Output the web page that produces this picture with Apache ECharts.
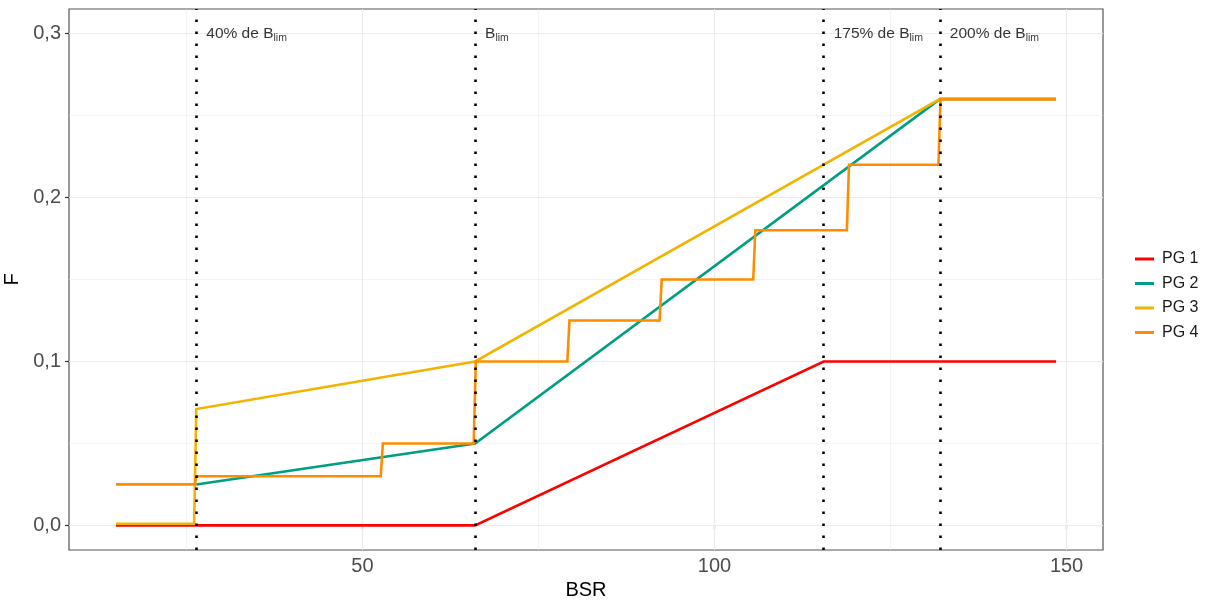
<!DOCTYPE html>
<html>
<head>
<meta charset="utf-8">
<script src="https://cdn.jsdelivr.net/npm/echarts@6/dist/echarts.min.js"></script>
<style>
html,body{margin:0;padding:0;background:#fff;}
#chart{width:1208px;height:601px;}
</style>
</head>
<body>
<div id="chart"></div>
<script>
// ---- data ----
var seriesNames = ['PG 1', 'PG 2', 'PG 3', 'PG 4'];
var pg1X = [15, 66, 115.5, 148.5];
var pg1Y = [0, 0, 0.1, 0.1];
var pg2X = [26.4, 66, 132, 148.5];
var pg2Y = [0.025, 0.05, 0.26, 0.26];
var pg3X = [15, 26.1, 26.4, 66, 132, 148.5];
var pg3Y = [0.001, 0.001, 0.071, 0.1, 0.26, 0.26];
var pg4X = [15, 26.2, 26.4, 52.6, 52.9, 65.8, 66.1, 79.1, 79.4, 92.2, 92.5, 105.5, 105.8, 118.8, 119.1, 131.8, 132.1, 148.5];
var pg4Y = [0.025, 0.025, 0.03, 0.03, 0.05, 0.05, 0.1, 0.1, 0.125, 0.125, 0.15, 0.15, 0.18, 0.18, 0.22, 0.22, 0.26, 0.26];
var refX = [26.4, 66, 115.5, 132];
var refLabelPrefix = ['40% de B', 'B', '175% de B', '200% de B'];
var refLabelSub = ['lim', 'lim', 'lim', 'lim'];
var refLabelY = 0.3;
var xTicks = [50, 100, 150];
var xMinor = [25, 75, 125];
var yTicks = [0, 0.1, 0.2, 0.3];
var yMinor = [0.05, 0.15, 0.25];
var colors = ['#FF0000', '#009E82', '#F2B400', '#FF8C00'];

function zip(xs, ys) { return xs.map(function (x, i) { return [x, ys[i]]; }); }
var allX = [pg1X, pg2X, pg3X, pg4X];
var allY = [pg1Y, pg2Y, pg3Y, pg4Y];

var chart = echarts.init(document.getElementById('chart'));

var gridMarks = [];
xMinor.forEach(function (v) { gridMarks.push({ xAxis: v, lineStyle: { width: 0.6 } }); });
yMinor.forEach(function (v) { gridMarks.push({ yAxis: v, lineStyle: { width: 0.6 } }); });
xTicks.forEach(function (v) { gridMarks.push({ xAxis: v, lineStyle: { width: 1.2 } }); });
yTicks.forEach(function (v) { gridMarks.push({ yAxis: v, lineStyle: { width: 1.2 } }); });

var series = [{
  type: 'line', data: [], z: 1, silent: true,
  markLine: {
    silent: true, symbol: 'none', animation: false, z: 1,
    label: { show: false },
    lineStyle: { color: '#EBEBEB', type: 'solid' },
    data: gridMarks
  }
}];

seriesNames.forEach(function (n, i) {
  series.push({
    name: n, type: 'line', data: zip(allX[i], allY[i]),
    showSymbol: false, symbol: 'none', z: 2 + i * 0.1,
    lineStyle: { color: colors[i], width: 2.6, join: 'miter' },
    itemStyle: { color: colors[i] },
    animation: false
  });
});

series.push({
  type: 'line', data: [], z: 5, silent: true,
  markLine: {
    silent: true, symbol: 'none', animation: false, z: 5,
    label: { show: false },
    lineStyle: { color: '#000', width: 2.6, type: [2.6, 9.4], cap: 'butt' },
    data: refX.map(function (v) { return { xAxis: v }; })
  }
});

series.push({
  type: 'scatter', symbolSize: 0, z: 6, silent: true, animation: false,
  data: refX.map(function (v, i) { return { value: [v, refLabelY], idx: i }; }),
  label: {
    show: true, position: 'right', distance: 10,
    formatter: function (p) {
      return '{m|' + refLabelPrefix[p.dataIndex] + '}{s|' + refLabelSub[p.dataIndex] + '}';
    },
    rich: {
      m: { fontSize: 15.5, color: '#000', fontFamily: 'Liberation Sans, Arial, sans-serif', lineHeight: 20, verticalAlign: 'middle' },
      s: { fontSize: 10.5, color: '#000', fontFamily: 'Liberation Sans, Arial, sans-serif', lineHeight: 20, verticalAlign: 'bottom' }
    }
  }
});

chart.setOption({
  backgroundColor: '#fff',
  animation: false,
  grid: { left: 69, right: 105, top: 9, bottom: 51, show: true, borderColor: '#555', borderWidth: 1.2, backgroundColor: 'transparent', containLabel: false, outerBoundsMode: 'none' },
  legend: {
    orient: 'vertical', left: 1130, top: 244,
    data: seriesNames,
    icon: 'rect', itemWidth: 19, itemHeight: 3, itemGap: 4.5,
    textStyle: { fontSize: 16, color: '#1a1a1a', fontFamily: 'Liberation Sans, Arial, sans-serif', lineHeight: 20, padding: [0, 0, 0, 3] }
  },
  xAxis: {
    type: 'value', min: 8.325, max: 155.175,
    name: 'BSR', nameLocation: 'middle', nameGap: 28,
    nameTextStyle: { fontSize: 20, color: '#000', fontFamily: 'Liberation Sans, Arial, sans-serif' },
    axisLine: { show: false },
    axisTick: { show: true, length: 4, lineStyle: { color: '#333', width: 1.2 }, customValues: xTicks },
    axisLabel: { fontSize: 20, color: '#4D4D4D', margin: 6, fontFamily: 'Liberation Sans, Arial, sans-serif', customValues: xTicks },
    splitLine: { show: false }
  },
  yAxis: {
    type: 'value', min: -0.015, max: 0.315,
    name: 'F', nameLocation: 'middle', nameGap: 37, nameRotate: 90,
    nameTextStyle: { fontSize: 20, color: '#000', fontFamily: 'Liberation Sans, Arial, sans-serif' },
    axisLine: { show: false },
    axisTick: { show: true, length: 4, lineStyle: { color: '#333', width: 1.2 }, customValues: yTicks },
    axisLabel: {
      fontSize: 20, color: '#4D4D4D', margin: 8, fontFamily: 'Liberation Sans, Arial, sans-serif', customValues: yTicks,
      formatter: function (v) { return v.toFixed(1).replace('.', ','); }
    },
    splitLine: { show: false }
  },
  series: series
});
</script>
</body>
</html>
